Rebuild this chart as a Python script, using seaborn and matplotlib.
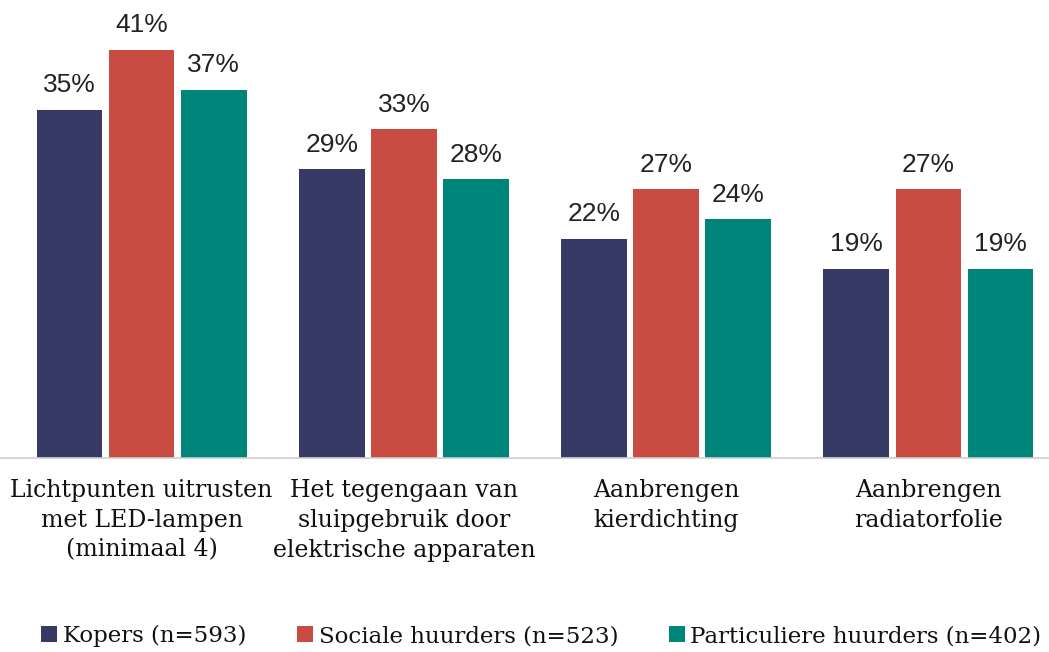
import pandas as pd
import matplotlib
matplotlib.use('Agg')
import matplotlib.pyplot as plt
import seaborn as sns
from matplotlib.patches import Patch

categories = ['Lichtpunten uitrusten\nmet LED-lampen\n(minimaal 4)',
              'Het tegengaan van\nsluipgebruik door\nelektrische apparaten',
              'Aanbrengen\nkierdichting',
              'Aanbrengen\nradiatorfolie']
groups = ['Kopers (n=593)', 'Sociale huurders (n=523)', 'Particuliere huurders (n=402)']
kopers = [35, 29, 22, 19]
sociale = [41, 33, 27, 27]
particuliere = [37, 28, 24, 19]
colors = ['#383a66', '#c94c43', '#00857a']

rows = []
for g, vals in zip(groups, [kopers, sociale, particuliere]):
    for c, v in zip(categories, vals):
        rows.append({'categorie': c, 'groep': g, 'waarde': v})
df = pd.DataFrame(rows)

sns.set_style('white')
plt.rcParams['font.family'] = ['DejaVu Serif']

fig = plt.figure(figsize=(10.49, 6.52), dpi=100)
ax = fig.add_axes([0, 194 / 652, 1, 458 / 652])

sns.barplot(data=df, x='categorie', y='waarde', hue='groep', palette=colors,
            width=0.825, gap=0.09, saturation=1, linewidth=0, ax=ax, legend=False)

for cont in ax.containers:
    labels = [f'{v:.0f}%' for v in cont.datavalues]
    ax.bar_label(cont, labels=labels, padding=9, fontsize=19,
                 family='Liberation Sans', color='#222222')

ax.set_xlim(-0.54, 3.46)
ax.set_ylim(0, 46.0)
ax.set_xlabel('')
ax.set_ylabel('')
ax.set_yticks([])
ax.tick_params(axis='x', length=0, pad=15, labelsize=17, labelcolor='#111111')
for lbl in ax.get_xticklabels():
    lbl.set_linespacing(1.38)
for s in ['top', 'right', 'left']:
    ax.spines[s].set_visible(False)
ax.spines['bottom'].set_color('#d0d0d0')
ax.spines['bottom'].set_linewidth(1.2)

handles = [Patch(facecolor=c, edgecolor='none') for c in colors]
fig.legend(handles, groups, loc='center', bbox_to_anchor=(0.516, 0.024), ncol=3,
           frameon=False, fontsize=16.5, handlelength=0.7, handleheight=0.7,
           handletextpad=0.25, columnspacing=2.2, labelcolor='#111111')

fig.savefig('out.png', dpi=100)
